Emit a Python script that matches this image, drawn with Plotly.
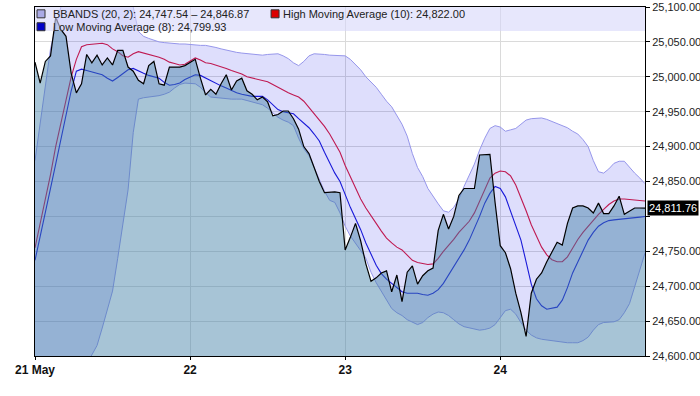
import plotly.graph_objects as go

# ---------------- data ----------------
day_labels = ["21 May", "22", "23", "24"]
points_per_day = 30
y_ticks = [24600, 24650, 24700, 24750, 24800, 24850, 24900, 24950, 25000, 25050, 25100]
hidden_tick = 24800   # covered by the last-value marker in the reference

price = [25021, 24991, 25022, 25030, 25085, 25068, 25058, 25005, 24977, 24990,
         25032, 25020, 25031, 25017, 25027, 25017, 25038, 25038, 25014, 25008,
         24995, 24990, 25016, 25022, 24990, 24988, 25014, 25014, 25014, 25016,
         25020, 25025, 24998, 24974, 24982, 24975, 24990, 25003, 24981, 24994,
         24998, 24980, 24975, 24967, 24971, 24964, 24944, 24946, 24951, 24951,
         24940, 24925, 24900, 24890, 24870, 24850, 24834, 24835, 24835, 24834,
         24752, 24770, 24790, 24765, 24732, 24707, 24712, 24719, 24722, 24692,
         24716, 24678, 24720, 24729, 24703, 24715, 24722, 24726, 24780, 24803,
         24782, 24800, 24830, 24840, 24840, 24840, 24888, 24889, 24889, 24820,
         24758, 24748, 24725, 24690, 24662, 24628, 24690, 24710, 24719, 24735,
         24750, 24763, 24759, 24790, 24812, 24815, 24815, 24812, 24805, 24819,
         24804, 24804, 24815, 24829, 24803, 24808, 24812, 24812, 24811.76]

high_ma = [24755, 24790, 24820, 24860, 24900, 24935, 24970, 25000, 25025, 25043,
           25046, 25047, 25048, 25048, 25046, 25040, 25036, 25030, 25028, 25033,
           25036, 25034, 25033, 25030, 25028, 25025, 25021, 25019, 25017, 25018,
           25023, 25027, 25024, 25020, 25019, 25017, 25015, 25012, 25009, 25007,
           25004, 25000, 24998, 24996, 24995, 24993, 24989, 24985, 24980, 24977,
           24974, 24971, 24965, 24956, 24947, 24938, 24929, 24918, 24905, 24892,
           24873, 24857, 24840, 24825, 24812, 24800, 24790, 24779, 24769, 24762,
           24756, 24752, 24745, 24737, 24734, 24732, 24731, 24732, 24740, 24750,
           24758, 24767, 24777, 24785, 24793, 24805, 24822, 24840, 24855, 24862,
           24865, 24864, 24858, 24845, 24827, 24808, 24788, 24772, 24756, 24745,
           24738, 24735, 24735, 24742, 24755, 24767, 24777, 24786, 24795, 24803,
           24810, 24817, 24822, 24825, 24825, 24824, 24824, 24823, 24822.00]

low_ma = [24737, 24770, 24805, 24840, 24875, 24910, 24945, 24980, 25008, 25011,
          25009, 25007, 25005, 25003, 24998, 24994, 24999, 25005, 25010, 25012,
          25008, 25005, 25002, 25000, 24998, 24992, 24988, 24989, 24991, 24996,
          25000, 25003, 25002, 24998, 24995, 24991, 24987, 24984, 24980, 24977,
          24975, 24973, 24972, 24972, 24972, 24967, 24960, 24953, 24950, 24949,
          24947, 24940, 24934, 24927, 24918, 24908, 24892, 24877, 24862, 24850,
          24831, 24813, 24797, 24781, 24762, 24745, 24730, 24718, 24710, 24704,
          24698, 24692, 24690, 24690, 24690, 24688, 24687, 24690, 24695, 24704,
          24716, 24727, 24740, 24752, 24766, 24782, 24800, 24819, 24833, 24843,
          24840, 24828, 24808, 24788, 24766, 24735, 24703, 24682, 24672, 24667,
          24668, 24670, 24680, 24698, 24719, 24735, 24752, 24766, 24777, 24786,
          24791, 24794, 24795, 24796, 24796, 24797, 24798, 24799, 24799.93]

bb_upper = [24880, 24935, 24990, 25040, 25072, 25100, 25130, 25160, 25190, 25210,
            25220, 25225, 25225, 25220, 25210, 25195, 25175, 25150, 25125, 25100,
            25065, 25058, 25055, 25052, 25050, 25049, 25048, 25048, 25047, 25047,
            25046, 25046, 25045, 25045, 25044, 25042, 25040, 25038, 25036, 25035,
            25034, 25033, 25032, 25031, 25031, 25032, 25033, 25033, 25030, 25026,
            25020, 25016, 25022, 25030, 25033, 25033, 25032, 25031, 25031, 25030,
            25030, 25025, 25018, 25010, 25000, 24993, 24985, 24975, 24965, 24957,
            24945, 24932, 24915, 24890, 24870, 24857, 24840, 24828, 24818, 24808,
            24806, 24813, 24825, 24843, 24858, 24875, 24895, 24912, 24926, 24930,
            24928, 24922, 24924, 24926, 24932, 24938, 24940, 24941, 24941, 24939,
            24936, 24934, 24930, 24927, 24922, 24918, 24910, 24900, 24880, 24864,
            24862, 24868, 24876, 24879, 24879, 24870, 24862, 24855, 24846.87]

bb_lower = [24600, 24570, 24540, 24500, 24470, 24460, 24480, 24530, 24560, 24575,
            24588, 24600, 24615, 24640, 24665, 24693, 24740, 24790, 24838, 24920,
            24968, 24970, 24971, 24971, 24973, 24975, 24978, 24984, 24989, 24991,
            24991, 24990, 24985, 24977, 24971, 24970, 24969, 24968, 24968, 24968,
            24968, 24966, 24964, 24963, 24960, 24955, 24948, 24942, 24938, 24935,
            24930, 24912, 24897, 24887, 24870, 24852, 24836, 24823, 24820, 24805,
            24786, 24772, 24762, 24751, 24740, 24720, 24705, 24692, 24680, 24668,
            24662, 24658, 24652, 24648, 24645, 24648, 24655, 24660, 24663, 24662,
            24658, 24652, 24646, 24642, 24640, 24638, 24637, 24638, 24640, 24645,
            24655, 24665, 24667, 24660, 24648, 24637, 24630, 24626, 24624, 24623,
            24621, 24620, 24619, 24619, 24619, 24619, 24622, 24627, 24637, 24645,
            24648, 24649, 24649, 24652, 24662, 24675, 24700, 24725, 24747.54]

# session time, in trading days from the first bar
t = [i / points_per_day for i in range(len(price))]

legend_bb = "BBANDS (20, 2): 24,747.54 – 24,846.87"
legend_high = "High Moving Average (10): 24,822.00"
legend_low = "Low Moving Average (8): 24,799.93"
last_label = "24,811.76"

# ---------------- figure ----------------
fig = go.Figure()

fig.add_trace(go.Scatter(x=t, y=high_ma, mode="lines",
                         line=dict(color="rgb(220,30,60)", width=1.1), hoverinfo="skip"))
fig.add_trace(go.Scatter(x=t, y=low_ma, mode="lines",
                         line=dict(color="rgb(30,30,215)", width=1.1), hoverinfo="skip"))
fig.add_trace(go.Scatter(x=t, y=bb_upper, mode="lines",
                         line=dict(color="rgb(150,150,235)", width=1), hoverinfo="skip"))
fig.add_trace(go.Scatter(x=t, y=bb_lower, mode="lines", fill="tonexty",
                         fillcolor="rgba(0,0,230,0.13)",
                         line=dict(color="rgb(150,150,235)", width=1), hoverinfo="skip"))
fig.add_trace(go.Scatter(x=t, y=price, mode="lines", fill="tozeroy",
                         fillcolor="rgba(60,125,165,0.45)",
                         line=dict(width=0, color="rgba(0,0,0,0)"), hoverinfo="skip"))
fig.add_trace(go.Scatter(x=t, y=price, mode="lines",
                         line=dict(color="black", width=1.2), hoverinfo="skip"))

grid = "rgb(218,218,218)"
fig.update_layout(
    width=700, height=396,
    margin=dict(l=35, r=55, t=7, b=40, autoexpand=False),
    paper_bgcolor="white", plot_bgcolor="white",
    showlegend=False,
    font=dict(family="Liberation Sans, Arial, sans-serif", size=11, color="#222"),
    xaxis=dict(range=[0, (len(price) - 1) / points_per_day],
               tickvals=[0, 1, 2, 3],
               ticktext=["<b>%s</b>" % s for s in day_labels],
               tickfont=dict(family="Liberation Sans Narrow, Liberation Sans, Arial", size=12, color="#111"),
               showgrid=True, gridcolor=grid, gridwidth=1, automargin=False,
               showline=True, linecolor="black", linewidth=1, mirror=True,
               ticks="outside", ticklen=3, tickcolor="black", zeroline=False),
    yaxis=dict(range=[24600, 25100], side="right",
               tickvals=y_ticks,
               ticktext=["" if v == hidden_tick else f"{v:,.2f}" for v in y_ticks],
               tickfont=dict(size=11, color="#222"), automargin=False,
               ticklabeloverflow="allow",
               showgrid=True, gridcolor=grid, gridwidth=1,
               showline=True, linecolor="black", linewidth=1, mirror=True,
               ticks="outside", ticklen=4, tickcolor="black", zeroline=False),
)

# legend strip (semi transparent, above the traces)
fig.add_shape(type="rect", xref="paper", yref="paper", x0=0, x1=1, y0=0.931, y1=1.0,
              fillcolor="rgba(215,215,250,0.6)", line=dict(width=0), layer="above")

def square(x0, y0, color):
    fig.add_shape(type="rect", xref="paper", yref="paper",
                  x0=x0, x1=x0 + 0.0131, y0=y0, y1=y0 + 0.0229,
                  fillcolor=color, line=dict(color="#333", width=1), layer="above")

square(0.0033, 0.969, "rgb(170,170,230)")
square(0.387, 0.969, "rgb(220,0,0)")
square(0.0033, 0.932, "rgb(0,0,200)")

def label(x, y, text):
    fig.add_annotation(xref="paper", yref="paper", x=x, y=y, text=text, showarrow=False,
                       xanchor="left", yanchor="middle",
                       font=dict(size=11, color="#222", family="Liberation Sans, Arial"))

label(0.026, 0.980, legend_bb)
label(0.403, 0.980, legend_high)
label(0.026, 0.943, legend_low)

# last value marker on the right axis
fig.add_annotation(xref="paper", yref="y", x=1, xshift=2, y=price[-1], text=last_label,
                   showarrow=False, xanchor="left", yanchor="middle",
                   bgcolor="black", borderpad=1,
                   font=dict(size=11, color="white", family="Liberation Sans, Arial"))

fig.write_html("out.html", config={"displayModeBar": False},
               post_script="document.body.style.margin='0';document.body.style.overflow='hidden';")
